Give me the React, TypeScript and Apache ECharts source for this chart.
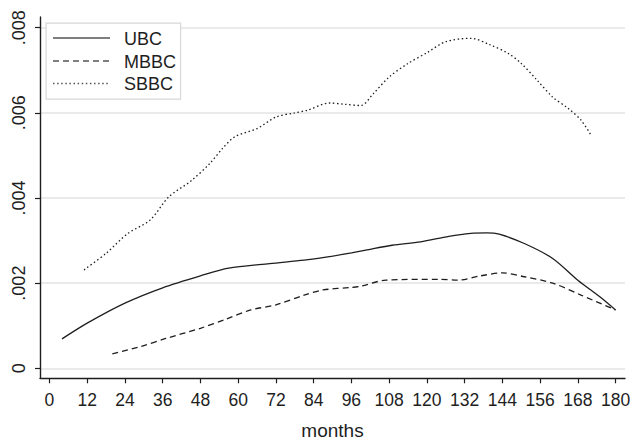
import React, { useEffect, useRef } from "react";
import * as echarts from "echarts";

const ubcMonths = [4, 12, 24, 36, 48, 57, 70, 81, 89, 96, 101, 109, 118, 127, 134, 139, 143, 151, 160, 168, 175, 180];
const ubcValues = [0.00069, 0.00106, 0.00153, 0.00189, 0.00217, 0.00235, 0.00246, 0.00254, 0.00262, 0.00271, 0.00278, 0.00289, 0.00297, 0.0031, 0.00317, 0.00318, 0.00315, 0.00293, 0.00258, 0.00207, 0.00168, 0.00137];

const mbbcMonths = [20, 29, 37, 48, 56, 64, 72, 81, 87, 96, 99, 107, 124, 130, 137, 144, 151, 160, 169, 180];
const mbbcValues = [0.00034, 0.00051, 0.0007, 0.00094, 0.00115, 0.00137, 0.00149, 0.00172, 0.00184, 0.0019, 0.00193, 0.00207, 0.00209, 0.00207, 0.00217, 0.00224, 0.00215, 0.002, 0.00172, 0.00137];

const sbbcMonths = [11, 18, 25, 32, 38, 45, 51, 55, 59, 66, 72, 78, 82, 89, 94, 99, 103, 108, 114, 120, 126, 134, 140, 146, 150, 155, 160, 165, 169, 172];
const sbbcValues = [0.00231, 0.0027, 0.00317, 0.00348, 0.00403, 0.0044, 0.00481, 0.00516, 0.00544, 0.00563, 0.0059, 0.006, 0.00606, 0.00623, 0.0062, 0.00617, 0.00645, 0.00684, 0.00716, 0.00741, 0.00767, 0.00775, 0.0076, 0.00739, 0.00716, 0.00677, 0.00637, 0.0061, 0.00583, 0.0055];

const xTicks = [0, 12, 24, 36, 48, 60, 72, 84, 96, 108, 120, 132, 144, 156, 168, 180];
const yTicks = [0, 0.002, 0.004, 0.006, 0.008];
const seriesNames = ["UBC", "MBBC", "SBBC"];

const FONT = "Liberation Sans, Arial, sans-serif";
const INK = "#1e1e1e";

function pairs(xs: number[], ys: number[]) {
  return xs.map((x, i) => [x, ys[i]]);
}

function fmtY(v: number) {
  if (Math.abs(v) < 1e-12) return "0";
  return v.toFixed(3).replace(/^0/, "");
}

export default function App() {
  const ref = useRef<HTMLDivElement>(null);
  useEffect(() => {
    if (!ref.current) return;
    const chart = echarts.init(ref.current, undefined, { renderer: "svg" });
    const lineTypes: any[] = ["solid", [6, 4], [1.5, 2.6]];
    const legendY = [38, 61, 83.5];
    const graphics: any[] = [
      {
        type: "rect",
        left: 45.5,
        top: 22.5,
        shape: { x: 0, y: 0, width: 134.5, height: 76 },
        style: { fill: "#fff", stroke: "#d8d8d8", lineWidth: 1.2 },
        z: 100,
      },
    ];
    seriesNames.forEach((n, i) => {
      graphics.push({
        type: "line",
        shape: { x1: 53, y1: legendY[i], x2: 110, y2: legendY[i] },
        style: { stroke: "#555", lineWidth: 1.3, lineDash: i === 0 ? null : lineTypes[i] },
        z: 101,
      });
      graphics.push({
        type: "text",
        x: 124,
        y: legendY[i] + 0.5,
        style: { text: n, fill: INK, font: `18px ${FONT}`, textVerticalAlign: "middle" },
        z: 101,
      });
    });

    chart.setOption({
      animation: false,
      backgroundColor: "#fff",
      grid: { left: 40, right: 7, top: 17, bottom: 61.7, containLabel: false, outerBoundsMode: "none" },
      xAxis: {
        type: "value",
        min: -3,
        max: 183,
        name: "months",
        nameLocation: "middle",
        nameGap: 43,
        nameTextStyle: { fontFamily: FONT, fontSize: 19, color: INK },
        axisLine: { show: true, onZero: false, lineStyle: { color: INK, width: 1.4 } },
        axisTick: { show: true, length: 5, customValues: xTicks, lineStyle: { color: INK, width: 1.2 } },
        axisLabel: { customValues: xTicks, fontFamily: FONT, fontSize: 17.5, color: INK, margin: 13 },
        splitLine: { show: false },
      },
      yAxis: {
        type: "value",
        min: -0.000235,
        max: 0.00825,
        axisLine: { show: true, onZero: false, lineStyle: { color: INK, width: 1.4 } },
        axisTick: { show: true, length: 5, customValues: yTicks, lineStyle: { color: INK, width: 1.2 } },
        axisLabel: {
          customValues: yTicks,
          rotate: 90,
          fontFamily: FONT,
          fontSize: 18,
          color: INK,
          margin: 12,
          formatter: (v: number) => fmtY(v),
        },
        splitLine: { show: true, lineStyle: { color: "#e3e3e3", width: 1.5 } },
      },
      graphic: graphics,
      series: [
        {
          name: "UBC",
          type: "line",
          data: pairs(ubcMonths, ubcValues),
          showSymbol: false,
          symbol: "none",
          smooth: 0.3,
          lineStyle: { color: INK, width: 1.3, type: "solid" },
        },
        {
          name: "MBBC",
          type: "line",
          data: pairs(mbbcMonths, mbbcValues),
          showSymbol: false,
          symbol: "none",
          smooth: 0.3,
          lineStyle: { color: INK, width: 1.3, type: [6, 4] },
        },
        {
          name: "SBBC",
          type: "line",
          data: pairs(sbbcMonths, sbbcValues),
          showSymbol: false,
          symbol: "none",
          smooth: 0.3,
          lineStyle: { color: INK, width: 1.3, type: [1.5, 2.6] },
        },
      ],
    });
    return () => chart.dispose();
  }, []);
  return (
    <div
      ref={ref}
      style={{ position: "fixed", left: 0, top: 0, width: 632, height: 440, background: "#fff" }}
    />
  );
}
